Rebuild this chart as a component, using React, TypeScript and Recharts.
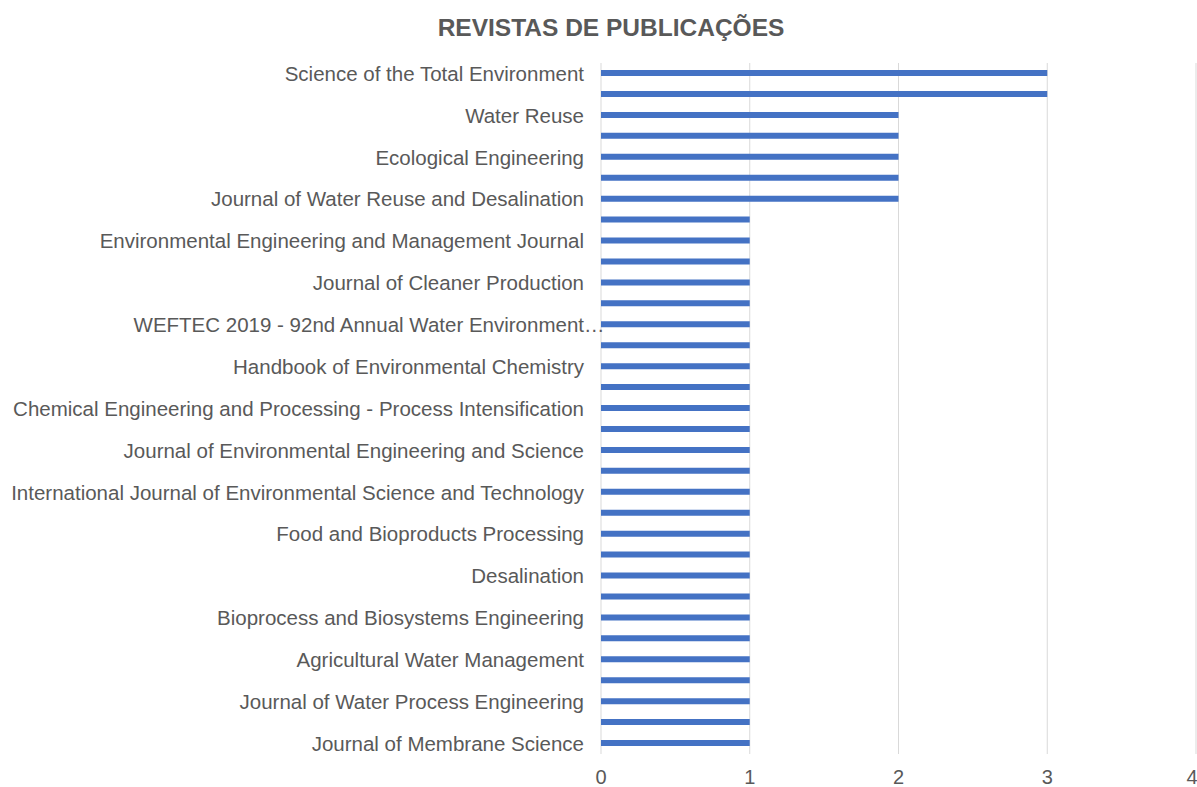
import React from "react";
import { BarChart, Bar, XAxis, YAxis, CartesianGrid } from "recharts";

const title = "REVISTAS DE PUBLICAÇÕES";

// Top-to-bottom categories (Excel shows every other label; unlabeled rows are "")
const categories: string[] = [
  "Science of the Total Environment", "",
  "Water Reuse", "",
  "Ecological Engineering", "",
  "Journal of Water Reuse and Desalination", "",
  "Environmental Engineering and Management Journal", "",
  "Journal of Cleaner Production", "",
  "WEFTEC 2019 - 92nd Annual Water Environment…", "",
  "Handbook of Environmental Chemistry", "",
  "Chemical Engineering and Processing - Process Intensification", "",
  "Journal of Environmental Engineering and Science", "",
  "International Journal of Environmental Science and Technology", "",
  "Food and Bioproducts Processing", "",
  "Desalination", "",
  "Bioprocess and Biosystems Engineering", "",
  "Agricultural Water Management", "",
  "Journal of Water Process Engineering", "",
  "Journal of Membrane Science",
];

const counts: number[] = [
  3, 3, 2, 2, 2, 2, 2, 1, 1, 1, 1, 1, 1, 1, 1, 1, 1,
  1, 1, 1, 1, 1, 1, 1, 1, 1, 1, 1, 1, 1, 1, 1, 1,
];

const xTicks: number[] = [0, 1, 2, 3, 4];

const data = categories.map((name, i) => ({ idx: i, name, value: counts[i] }));

const TEXT = "#595959";
const FONT = "'Liberation Sans', Arial, sans-serif";
const TICK_FS = 20.5;

const YTick = (props: any) => {
  const { x, y, payload } = props;
  const label = categories[payload.value] ?? "";
  if (!label) return null;
  if (label.endsWith("…")) {
    const main = label.slice(0, -1);
    return (
      <g>
        <text x={x} y={y} dy="0.355em" textAnchor="end" fill={TEXT} fontSize={TICK_FS} fontFamily={FONT}>
          {main}
        </text>
        <text x={x} y={y} dy="0.355em" textAnchor="start" fill={TEXT} fontSize={TICK_FS} fontFamily={FONT}>
          …
        </text>
      </g>
    );
  }
  return (
    <text x={x} y={y} dy="0.355em" textAnchor="end" fill={TEXT} fontSize={TICK_FS} fontFamily={FONT}>
      {label}
    </text>
  );
};

export default function App() {
  return (
    <div style={{ position: "absolute", left: 0, top: 0, width: 1197, height: 787, background: "#fff" }}>
      <div
        style={{
          position: "absolute",
          left: 611,
          top: 16,
          transform: "translateX(-50%)",
          whiteSpace: "nowrap",
          fontFamily: FONT,
          fontWeight: "bold",
          fontSize: 24.5,
          lineHeight: "24px",
          color: TEXT,
        }}
      >
        {title}
      </div>
      <BarChart
        width={1197}
        height={787}
        data={data}
        layout="vertical"
        margin={{ top: 63, right: 1, bottom: 3, left: 0 }}
      >
        <CartesianGrid horizontal={false} vertical={true} stroke="#d9d9d9" />
        <XAxis
          type="number"
          domain={[0, 4]}
          ticks={xTicks}
          axisLine={false}
          tickLine={false}
          tickSize={6}
          tickMargin={10}
          height={30}
          tick={{ fill: TEXT, fontSize: 20, fontFamily: FONT }}
        />
        <YAxis
          type="category"
          dataKey="idx"
          width={601}
          interval={0}
          axisLine={false}
          tickLine={false}
          tickSize={6}
          tickMargin={11}
          tick={<YTick />}
        />
        <Bar dataKey="value" fill="#4472C4" barSize={6} isAnimationActive={false} />
      </BarChart>
    </div>
  );
}
